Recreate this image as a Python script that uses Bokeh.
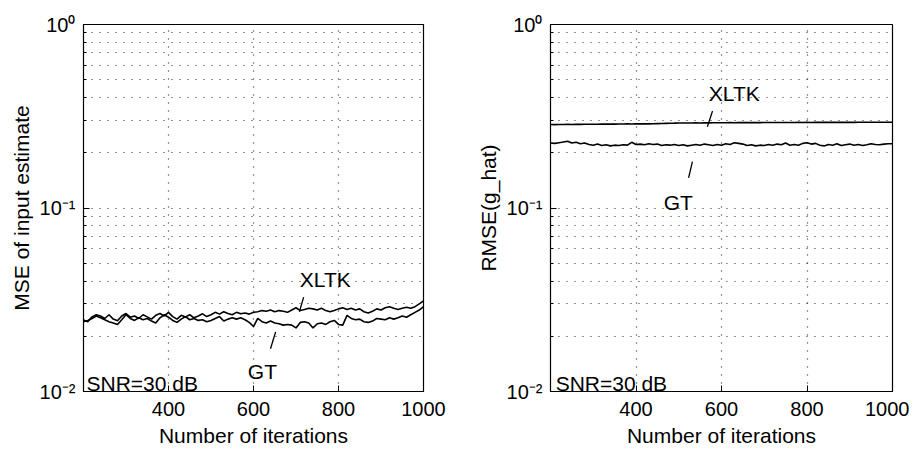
from bokeh.plotting import figure
from bokeh.layouts import row
from bokeh.models import FixedTicker, Range1d
from bokeh.core.properties import value
from bokeh.embed import file_html
from bokeh.resources import INLINE

FONT = "Liberation Sans"

# ---------------- data ----------------
iters = list(range(200, 1001, 10))

mse_xltk = [0.0245, 0.0240, 0.0255, 0.0262, 0.0258, 0.0250, 0.0262, 0.0248, 0.0243, 0.0258,
            0.0266, 0.0254, 0.0258, 0.0250, 0.0262, 0.0255, 0.0248, 0.0260, 0.0266, 0.0258,
            0.0270, 0.0256, 0.0248, 0.0260, 0.0255, 0.0262, 0.0252, 0.0258, 0.0265, 0.0256,
            0.0262, 0.0270, 0.0264, 0.0272, 0.0266, 0.0262, 0.0270, 0.0265, 0.0268, 0.0264,
            0.0270, 0.0272, 0.0276, 0.0274, 0.0278, 0.0272, 0.0276, 0.0274, 0.0270, 0.0278,
            0.0286, 0.0276, 0.0280, 0.0284, 0.0282, 0.0278, 0.0284, 0.0276, 0.0272, 0.0276,
            0.0282, 0.0286, 0.0280, 0.0284, 0.0278, 0.0282, 0.0272, 0.0268, 0.0274, 0.0282,
            0.0278, 0.0286, 0.0290, 0.0284, 0.0280, 0.0284, 0.0288, 0.0284, 0.0290, 0.0300,
            0.0312]

mse_gt = [0.0240, 0.0244, 0.0250, 0.0258, 0.0252, 0.0246, 0.0240, 0.0236, 0.0232, 0.0246,
          0.0262, 0.0250, 0.0244, 0.0252, 0.0246, 0.0250, 0.0242, 0.0236, 0.0252, 0.0262,
          0.0254, 0.0244, 0.0238, 0.0248, 0.0256, 0.0246, 0.0250, 0.0244, 0.0246, 0.0240,
          0.0244, 0.0250, 0.0256, 0.0242, 0.0248, 0.0252, 0.0248, 0.0252, 0.0246, 0.0238,
          0.0226, 0.0250, 0.0240, 0.0236, 0.0242, 0.0236, 0.0234, 0.0230, 0.0232, 0.0230,
          0.0222, 0.0238, 0.0240, 0.0236, 0.0222, 0.0234, 0.0236, 0.0232, 0.0240, 0.0244,
          0.0232, 0.0230, 0.0260, 0.0250, 0.0246, 0.0248, 0.0240, 0.0238, 0.0242, 0.0250,
          0.0248, 0.0246, 0.0252, 0.0248, 0.0252, 0.0258, 0.0254, 0.0262, 0.0270, 0.0278,
          0.0290]

rmse_gt = [0.226, 0.225, 0.227, 0.229, 0.231, 0.226, 0.228, 0.224, 0.226, 0.222,
           0.220, 0.223, 0.219, 0.221, 0.218, 0.220, 0.219, 0.221, 0.220, 0.228,
           0.222, 0.223, 0.221, 0.224, 0.222, 0.223, 0.219, 0.221, 0.220, 0.222,
           0.219, 0.221, 0.218, 0.220, 0.222, 0.220, 0.223, 0.221, 0.219, 0.222,
           0.220, 0.224, 0.222, 0.227, 0.225, 0.223, 0.219, 0.221, 0.218, 0.220,
           0.219, 0.222, 0.220, 0.223, 0.221, 0.226, 0.220, 0.222, 0.220, 0.225,
           0.227, 0.223, 0.225, 0.220, 0.218, 0.222, 0.220, 0.224, 0.219, 0.221,
           0.223, 0.220, 0.222, 0.219, 0.221, 0.224, 0.222, 0.221, 0.223, 0.224,
           0.224]

rmse_xltk = [0.2850, 0.2848, 0.2852, 0.2850, 0.2855, 0.2853, 0.2857, 0.2855, 0.2860, 0.2858,
             0.2862, 0.2860, 0.2865, 0.2863, 0.2867, 0.2866, 0.2870, 0.2868, 0.2872, 0.2870,
             0.2874, 0.2872, 0.2876, 0.2875, 0.2880, 0.2884, 0.2888, 0.2892, 0.2896, 0.2900,
             0.2905, 0.2903, 0.2908, 0.2906, 0.2910, 0.2908, 0.2912, 0.2910, 0.2914, 0.2912,
             0.2916, 0.2914, 0.2918, 0.2916, 0.2920, 0.2918, 0.2921, 0.2919, 0.2922, 0.2920,
             0.2923, 0.2921, 0.2924, 0.2922, 0.2925, 0.2923, 0.2926, 0.2924, 0.2927, 0.2925,
             0.2927, 0.2926, 0.2928, 0.2927, 0.2929, 0.2928, 0.2930, 0.2929, 0.2931, 0.2930,
             0.2931, 0.2930, 0.2932, 0.2931, 0.2933, 0.2932, 0.2933, 0.2932, 0.2934, 0.2934,
             0.2935]

x_ticks = [400, 600, 800, 1000]
x_grid = [400, 600, 800]
y_major = [0.01, 0.1, 1.0]
y_minor = [0.02, 0.03, 0.04, 0.05, 0.06, 0.07, 0.08, 0.09,
           0.2, 0.3, 0.4, 0.5, 0.6, 0.7, 0.8, 0.9]
y_labels = {0.01: "10\u207b\u00b2", 0.1: "10\u207b\u00b9", 1.0: "10\u2070"}

# annotations
left_labels_x = [769, 621]
left_labels_y = [0.041, 0.0128]
left_labels_t = ["XLTK", "GT"]
left_ptr_x0 = [718, 652]
left_ptr_y0 = [0.0327, 0.0211]
left_ptr_x1 = [708, 640]
left_ptr_y1 = [0.0272, 0.0171]

right_labels_x = [630, 499]
right_labels_y = [0.423, 0.107]
right_labels_t = ["XLTK", "GT"]
right_ptr_x0 = [579, 532]
right_ptr_y0 = [0.338, 0.179]
right_ptr_x1 = [567, 523]
right_ptr_y1 = [0.277, 0.146]

snr_text = "SNR=30 dB"

TICK_FS = "20px"
LABEL_FS = "21px"
TEXT_FS = "21px"


def make_fig(width, height, bl, br, bt, bb, ylabel):
    p = figure(width=width, height=height, y_axis_type="log",
               x_range=Range1d(200, 1000), y_range=Range1d(0.01, 1.0),
               output_backend="svg", toolbar_location=None,
               min_border_left=bl, min_border_right=br,
               min_border_top=bt, min_border_bottom=bb)
    p.outline_line_color = "black"
    p.outline_line_width = 1.2
    p.background_fill_color = "white"
    p.border_fill_color = "white"

    p.xaxis.ticker = FixedTicker(ticks=x_ticks)
    p.yaxis.ticker = FixedTicker(ticks=y_major, minor_ticks=y_minor)
    p.yaxis.major_label_overrides = y_labels
    for ax in (p.xaxis[0], p.yaxis[0]):
        ax.axis_line_color = "black"
        ax.major_tick_in = 6
        ax.major_tick_out = 0
        ax.minor_tick_in = 3
        ax.minor_tick_out = 0
        ax.major_tick_line_color = "black"
        ax.minor_tick_line_color = "black"
        ax.major_label_text_font = FONT
        ax.major_label_text_font_size = TICK_FS
        ax.major_label_text_color = "black"
        ax.axis_label_text_font = FONT
        ax.axis_label_text_font_size = LABEL_FS
        ax.axis_label_text_font_style = "normal"
        ax.axis_label_text_color = "black"
    p.xaxis.minor_tick_in = 0
    p.xaxis.major_label_standoff = 10
    p.yaxis.major_label_standoff = 8
    p.xaxis.axis_label_standoff = 5
    p.yaxis.axis_label_standoff = 4
    p.xaxis.axis_label = "Number of iterations"
    p.yaxis.axis_label = ylabel

    p.xgrid.ticker = FixedTicker(ticks=x_grid)
    p.ygrid.ticker = FixedTicker(ticks=y_major[1:2] + y_minor)
    for g in (p.xgrid[0], p.ygrid[0]):
        g.grid_line_color = "black"
        g.grid_line_dash = "1 7"
        g.grid_line_width = 1.2
        g.grid_line_alpha = 0.85
    return p


p1 = make_fig(460, 449, 83, 37, 24, 56, "MSE of input estimate")
p1.line(iters, mse_xltk, line_color="black", line_width=1.6)
p1.line(iters, mse_gt, line_color="black", line_width=1.6)
p1.segment(left_ptr_x0, left_ptr_y0, left_ptr_x1, left_ptr_y1, line_color="black", line_width=1.3)
p1.text(left_labels_x, left_labels_y, text=left_labels_t, text_align="center",
        text_baseline="middle", text_font=value(FONT), text_font_size=TEXT_FS, text_color="black")
p1.text([207], [0.01], text=[snr_text], text_align="left", text_baseline="bottom",
        text_font=value(FONT), text_font_size=TEXT_FS, text_color="black", y_offset=3)

p2 = make_fig(449, 449, 90, 17, 24, 56, "RMSE(g_hat)")
p2.line(iters, rmse_xltk, line_color="black", line_width=1.6)
p2.line(iters, rmse_gt, line_color="black", line_width=1.6)
p2.segment(right_ptr_x0, right_ptr_y0, right_ptr_x1, right_ptr_y1, line_color="black", line_width=1.3)
p2.text(right_labels_x, right_labels_y, text=right_labels_t, text_align="center",
        text_baseline="middle", text_font=value(FONT), text_font_size=TEXT_FS, text_color="black")
p2.text([212], [0.01], text=[snr_text], text_align="left", text_baseline="bottom",
        text_font=value(FONT), text_font_size=TEXT_FS, text_color="black", y_offset=3)

layout = row(p1, p2)
open("out.html", "w").write(file_html(layout, INLINE))
